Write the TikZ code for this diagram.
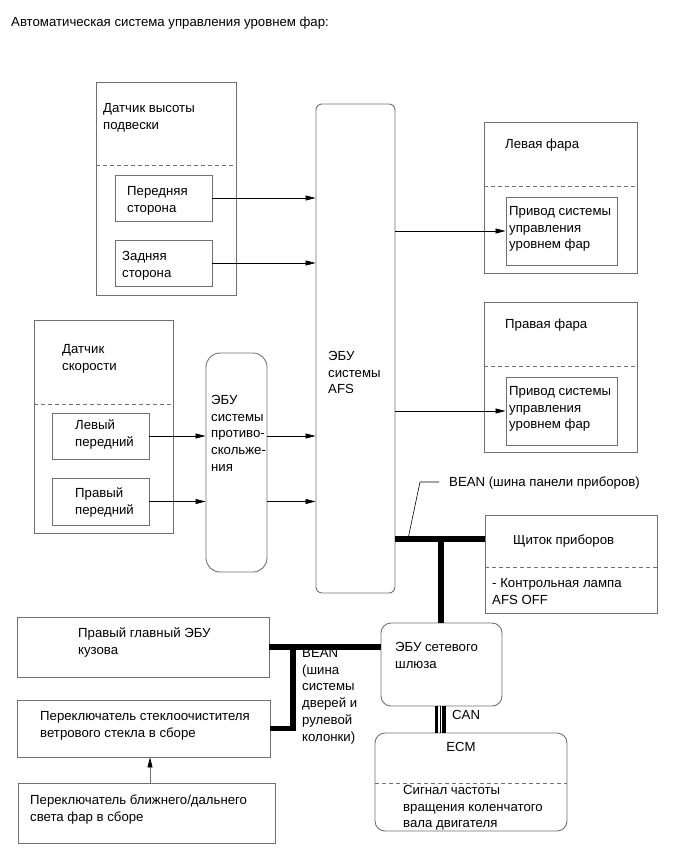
\documentclass[tikz,border=0pt]{standalone}
\usepackage{fontspec}
\setmainfont{Liberation Sans}
\usetikzlibrary{arrows.meta,fit}
\definecolor{bgray}{RGB}{112,112,112}
\newcommand{\fs}{\fontsize{13.2}{16.8}\selectfont}
\newcommand{\st}{\rule{0pt}{10pt}}
\begin{document}
\begin{tikzpicture}[x=1pt,y=-1pt,
  box/.style={draw=bgray, line width=0.9pt, inner sep=0pt},
  dsh/.style={draw=bgray, line width=0.8pt, dash pattern=on 4pt off 3pt},
  arr/.style={draw=black, line width=0.7pt, -{Triangle[length=10pt,width=5pt]}},
  bus/.style={draw=black, line width=5.5pt, line cap=butt},
  lead/.style={draw=black, line width=0.6pt},
  txt/.style={anchor=north west, inner sep=0pt, align=left, font=\fs}]
\useasboundingbox (0,0) rectangle (692,856);
\node[txt] (title) at (11,16) {\st Автоматическая система управления уровнем фар:};

% suspension height sensor
\node[box, fit={(96,82) (236,295)}] (susp) {};
\draw[dsh] (96,165) -- (236,165);
\node[txt] (suspt) at (103,102) {\st Датчик высоты\\подвески};
\node[box, fit={(115,175) (212,221)}] (front) {};
\node[txt] (frontt) at (127,185) {\st Передняя\\сторона};
\node[box, fit={(115,240) (212,286)}] (rear) {};
\node[txt] (reart) at (122,250) {\st Задняя\\сторона};

% AFS ECU
\node[box, rounded corners=6pt, fit={(316,104) (395,593)}] (afs) {};
\node[txt] (afst) at (328,350) {\st ЭБУ\\системы\\AFS};

% headlights
\node[box, fit={(484,122) (637,273)}] (ll) {};
\draw[dsh] (484,186) -- (637,186);
\node[txt] (llt) at (505,138) {\st Левая фара};
\node[box, fit={(506,197) (617,265)}] (lli) {};
\node[txt] (llit) at (509,205) {\st Привод системы\\управления\\уровнем фар};

\node[box, fit={(484,302) (637,452)}] (rl) {};
\draw[dsh] (484,366) -- (637,366);
\node[txt] (rlt) at (505,318) {\st Правая фара};
\node[box, fit={(506,377) (617,445)}] (rli) {};
\node[txt] (rlit) at (509,385) {\st Привод системы\\управления\\уровнем фар};

% speed sensor
\node[box, fit={(34,320) (173,533)}] (spd) {};
\draw[dsh] (34,404) -- (173,404);
\node[txt] (spdt) at (62,343) {\st Датчик\\скорости};
\node[box, fit={(52,413) (149,459)}] (lf) {};
\node[txt] (lft) at (75,419) {\st Левый\\передний};
\node[box, fit={(52,478) (149,525)}] (rf) {};
\node[txt] (rft) at (75,487) {\st Правый\\передний};

% ABS ECU
\node[box, rounded corners=14pt, fit={(206,353) (267,572)}] (abs) {};
\node[txt] (abst) at (211,394) {\st ЭБУ\\системы\\противо-\\скольже-\\ния};

% arrows
\draw[arr] (front.east) -- (front.east -| afs.west);
\draw[arr] (rear.east) -- (rear.east -| afs.west);
\draw[arr] (lf.east) -- (lf.east -| abs.west);
\draw[arr] (rf.east) -- (rf.east -| abs.west);
\draw[arr] (abs.east |- lf.east) -- (afs.west |- lf.east);
\draw[arr] (abs.east |- rf.east) -- (afs.west |- rf.east);
\draw[arr] (afs.east |- lli.west) -- (lli.west);
\draw[arr] (afs.east |- rli.west) -- (rli.west);

% combination meter
\node[box, fit={(485,515) (657,613)}] (clu) {};
\draw[dsh] (485,567) -- (657,567);
\node[txt] (clut) at (513,534) {\st Щиток приборов};
\node[txt] (clut2) at (492,577) {\st - Контрольная лампа\\AFS OFF};

% gateway ECU
\node[box, rounded corners=10pt, fit={(381,623) (502,706)}] (gw) {};
\node[txt] (gwt) at (395,641) {\st ЭБУ сетевого\\шлюза};

% ECM
\node[box, rounded corners=10pt, fit={(375,733) (567,831)}] (ecm) {};
\draw[dsh] (375,783) -- (567,783);
\node[txt, anchor=north, align=center] (ecmt) at (461,741) {\st ECM};
\node[txt] (ecmt2) at (403,784) {\st Сигнал частоты\\вращения коленчатого\\вала двигателя};

% BEAN instrument panel bus
\coordinate (j1) at (441,539);
\draw[bus] (afs.east |- j1) -- (clu.west |- j1);
\draw[bus] (j1) -- (j1 |- gw.north);
\coordinate (l1) at (408,539);
\coordinate (l2) at (420,482);
\coordinate (l3) at (439,482);
\draw[lead] (l1) -- (l2) -- (l3);
\node[txt] (beant) at (449,476) {\st BEAN (шина панели приборов)};

% CAN
\coordinate (c1) at (436.5,0);
\coordinate (c2) at (440.5,0);
\coordinate (c3) at (444.2,0);
\draw[line width=3.6pt] (gw.south -| c1) -- (ecm.north -| c1);
\draw[line width=1pt] (gw.south -| c2) -- (ecm.north -| c2);
\draw[line width=3.6pt] (gw.south -| c3) -- (ecm.north -| c3);
\node[txt] (cant) at (452,709) {\st CAN};

% bottom left
\node[box, fit={(17,617) (269,677)}] (body) {};
\node[txt] (bodyt) at (78,627) {\st Правый главный ЭБУ\\кузова};
\node[box, fit={(17,700) (270,757)}] (wip) {};
\node[txt] (wipt) at (40,710) {\st Переключатель стеклоочистителя\\ветрового стекла в сборе};
\node[box, fit={(18,783) (275,843)}] (hl) {};
\node[txt] (hlt) at (30,794) {\st Переключатель ближнего/дальнего\\света фар в сборе};
\coordinate (a1) at (150,0);
\draw[arr, draw=bgray, -{Triangle[length=10pt,width=5pt,black]}] (hl.north -| a1) -- (wip.south -| a1);

% BEAN door bus
\coordinate (j2) at (293,647);
\draw[bus] (body.east) -- (body.east -| gw.west);
\draw[bus] (j2) |- (wip.east);
\node[txt] (bean2t) at (302,647) {\st BEAN\\(шина\\системы\\дверей и\\рулевой\\колонки)};
\end{tikzpicture}
\end{document}
